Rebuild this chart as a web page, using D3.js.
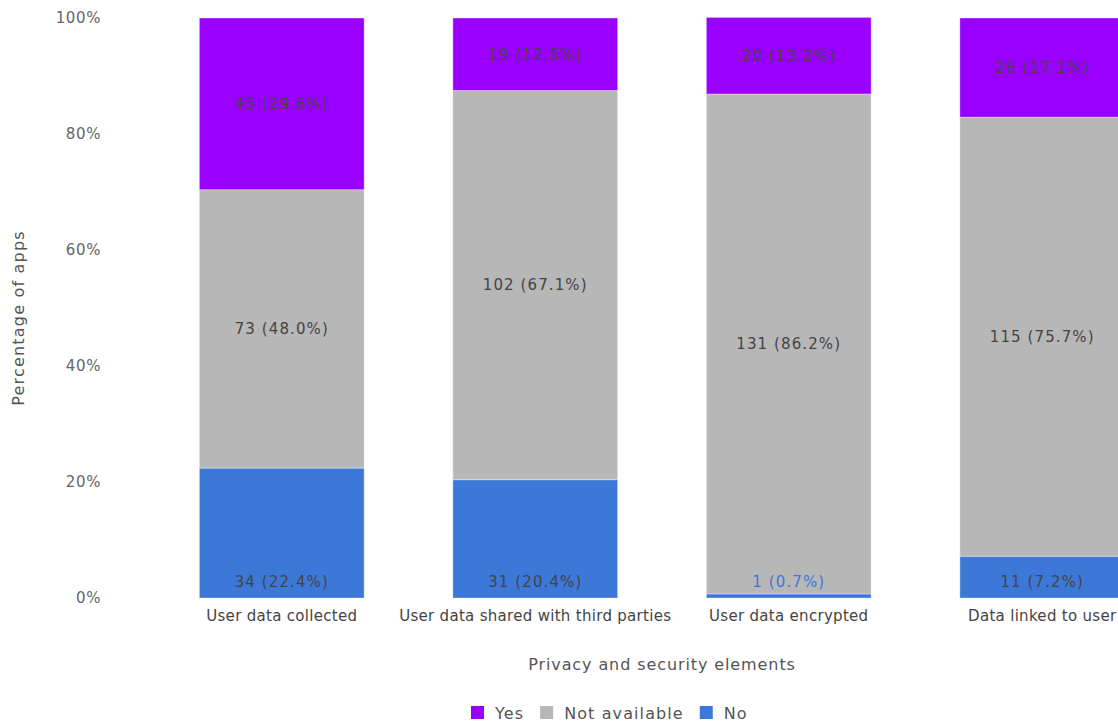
<!DOCTYPE html>
<html>
<head>
<meta charset="utf-8">
<script src="https://cdn.jsdelivr.net/npm/d3@7"></script>
<style>
  body { margin: 0; background: #fff; overflow: hidden; }
  text { font-family: "DejaVu Sans", Verdana, sans-serif; }
</style>
</head>
<body>
<svg id="chart" width="1118" height="725"></svg>
<script>
// categories and series (counts out of 152 apps, percentages as labelled)
var categories = ["User data collected", "User data shared with third parties", "User data encrypted", "Data linked to user"];
var seriesNames = ["No", "Not available", "Yes"];
var noCounts = [34, 31, 1, 11];
var noPct = [22.4, 20.4, 0.7, 7.2];
var naCounts = [73, 102, 131, 115];
var naPct = [48.0, 67.1, 86.2, 75.7];
var yesCounts = [45, 19, 20, 26];
var yesPct = [29.6, 12.5, 13.2, 17.1];
var yTicks = [0, 20, 40, 60, 80, 100];
var legendOrder = ["Yes", "Not available", "No"];

var colors = {"Yes": "#9900ff", "Not available": "#b7b7b7", "No": "#3c78d8"};

var margin = {top: 18, left: 155, bottom: 127},
    plotW = 1014,
    height = 725 - margin.top - margin.bottom;

var svg = d3.select("#chart");
var g = svg.append("g").attr("transform", "translate(" + margin.left + "," + margin.top + ")");

var rows = categories.map(function(c, i) {
    return {cat: c,
        "No": noPct[i], "Not available": naPct[i], "Yes": yesPct[i],
        counts: {"No": noCounts[i], "Not available": naCounts[i], "Yes": yesCounts[i]}};
});

var x = d3.scaleBand().domain(categories).range([0, plotW]).paddingInner(0.35).paddingOuter(0.175);
var y = d3.scaleLinear().domain([0, 100]).range([height, 0]);

var stacked = d3.stack().keys(seriesNames)(rows);

// y axis
var yAxis = g.append("g").call(d3.axisLeft(y).tickValues(yTicks).tickSize(0).tickPadding(0)
    .tickFormat(function(d) { return d + "%"; }));
yAxis.select(".domain").remove();
yAxis.selectAll("text").attr("x", -54).attr("dy", "0.32em")
    .attr("fill", "#666").style("font-size", "15px").style("letter-spacing", "0.6px")
    .style("font-family", "DejaVu Sans");

// x axis
var xAxis = g.append("g").attr("transform", "translate(0," + height + ")")
    .call(d3.axisBottom(x).tickSize(0).tickPadding(12));
xAxis.select(".domain").remove();
xAxis.selectAll("text").attr("fill", "#444").style("font-size", "15px").style("letter-spacing", "0.3px")
    .style("font-family", "DejaVu Sans");

// bars
var layer = g.selectAll(".layer").data(stacked).enter().append("g")
    .attr("class", "layer").attr("fill", function(d) { return colors[d.key]; });

layer.selectAll("rect").data(function(d) { return d; }).enter().append("rect")
    .attr("x", function(d) { return x(d.data.cat); })
    .attr("width", x.bandwidth())
    .attr("y", function(d) { return y(d[1]); })
    .attr("height", function(d) { return y(d[0]) - y(d[1]); })
    .attr("stroke", "#ffffff").attr("stroke-opacity", 0.35).attr("stroke-width", 1);

// value labels
stacked.forEach(function(s) {
    s.forEach(function(d) {
        var h = y(d[0]) - y(d[1]);
        var ly, fill = "#444";
        if (s.key === "No") {
            ly = y(d[0]) - 16;
            if (h < 20) fill = colors["No"];
        } else {
            ly = (y(d[0]) + y(d[1])) / 2;
        }
        g.append("text")
            .attr("x", x(d.data.cat) + x.bandwidth() / 2)
            .attr("y", ly)
            .attr("dy", "0.35em")
            .attr("text-anchor", "middle")
            .attr("fill", fill)
            .style("font-size", "15px")
            .style("letter-spacing", "1.1px")
            .text(d.data.counts[s.key] + " (" + d.data[s.key].toFixed(1) + "%)");
    });
});

// axis titles
svg.append("text")
    .attr("transform", "translate(24," + (margin.top + height / 2 + 10) + ") rotate(-90)")
    .attr("text-anchor", "middle").attr("fill", "#555").style("font-size", "16px")
    .style("letter-spacing", "1.2px")
    .text("Percentage of apps");

svg.append("text")
    .attr("x", margin.left + plotW / 2).attr("y", 670)
    .attr("text-anchor", "middle").attr("fill", "#555").style("font-size", "16px")
    .style("letter-spacing", "0.9px")
    .text("Privacy and security elements");

// legend
var legend = svg.append("g").attr("transform", "translate(0,713)");
var lx = 471;
legendOrder.forEach(function(k) {
    legend.append("rect").attr("x", lx).attr("y", -7).attr("width", 13).attr("height", 13)
        .attr("fill", colors[k]);
    var t = legend.append("text").attr("x", lx + 24).attr("y", 0).attr("dy", "0.35em")
        .attr("fill", "#555").style("font-size", "16px").style("letter-spacing", "1.1px").text(k);
    lx += 24 + t.node().getComputedTextLength() + 16;
});
</script>
</body>
</html>
